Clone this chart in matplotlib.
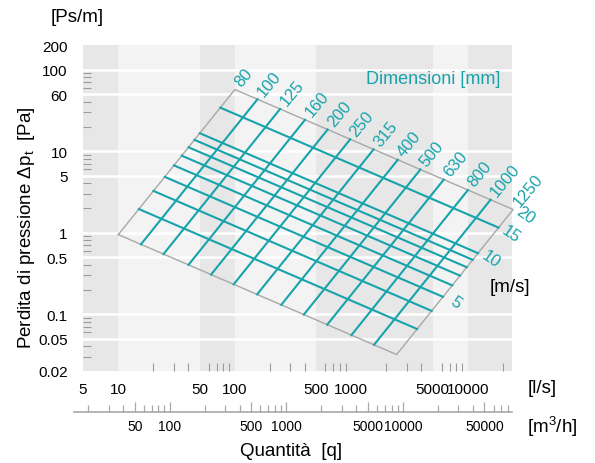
import numpy as np
import matplotlib
matplotlib.use("Agg")
import matplotlib.pyplot as plt
from matplotlib.ticker import FixedLocator, FixedFormatter, NullFormatter

plt.rcParams["font.family"] = ["Liberation Sans", "DejaVu Sans"]

TEAL = "#17a3ab"
GREY = "#a8a8a8"

# nomogram: duct diameters [mm] and air velocities [m/s]
diameters = [80, 100, 125, 160, 200, 250, 315, 400, 500, 630, 800, 1000, 1250]
velocities = [2, 3, 4, 5, 6, 7, 8, 9, 10, 15, 20]
velocity_labels = [5, 10, 15, 20]

# pressure drop fit: dp = K * v^A / d^B  [Pa/m], d in m
K, A, B = 0.0122, 1.78, 1.233

# axes
q_range = (5, 24000)      # l/s
dp_range = (0.02, 200)    # Pa
ls_ticks = [5, 10, 50, 100, 500, 1000, 5000, 10000]
dp_ticks = [0.02, 0.05, 0.1, 0.5, 1, 5, 10, 50, 100, 200]
dp_tick_labels = ["0.02", "0.05", "0.1", "0.5", "1", "5", "10", "60", "100", "200"]
dp_grid = [0.05, 0.1, 0.5, 1, 5, 10, 50, 100]
m3h_ticks = [50, 100, 500, 1000, 5000, 10000, 50000]
dark_bands = [(5, 10), (50, 100), (500, 5000), (10000, 24000)]
LS_TO_M3H = 3.6


def flow(d, v):
    # l/s through a round duct of d mm at v m/s
    return np.pi / 4 * (np.asarray(d) / 1000) ** 2 * np.asarray(v) * 1000


def drop(d, v):
    return K * np.asarray(v) ** A / (np.asarray(d) / 1000) ** B


def minor_ticks(lo, hi):
    out = []
    for k in range(-3, 6):
        for n in (2, 3, 4, 6, 7, 8, 9):
            t = n * 10.0 ** k
            if lo < t < hi:
                out.append(t)
    return out


fig = plt.figure(figsize=(5.95, 4.64), dpi=100)
ax = fig.add_axes([83 / 595, 1 - 372 / 464, 429 / 595, 326 / 464])
ax.set_xscale("log")
ax.set_yscale("log")
ax.set_xlim(*q_range)
ax.set_ylim(*dp_range)
ax.set_facecolor("#f3f3f3")
for lo, hi in dark_bands:
    ax.axvspan(lo, hi, color="#e7e7e7", lw=0, zorder=0)
for g in dp_grid:
    ax.axhline(g, color="white", lw=1.8, zorder=1)
for s in ax.spines.values():
    s.set_visible(False)

ax.xaxis.set_major_locator(FixedLocator(ls_ticks))
ax.xaxis.set_major_formatter(FixedFormatter([str(t) for t in ls_ticks]))
ax.xaxis.set_minor_locator(FixedLocator(minor_ticks(10, q_range[1])))
ax.xaxis.set_minor_formatter(NullFormatter())
ax.yaxis.set_major_locator(FixedLocator(dp_ticks))
ax.yaxis.set_major_formatter(FixedFormatter(dp_tick_labels))
ax.yaxis.set_minor_locator(FixedLocator(minor_ticks(*dp_range)))
ax.yaxis.set_minor_formatter(NullFormatter())
ax.tick_params(which="major", length=0, labelsize=11)
ax.tick_params(axis="x", which="major", pad=8)
ax.tick_params(axis="y", which="major", pad=11)
ax.tick_params(which="minor", direction="in", length=6, width=0.8, color="#9c9c9c")

# nomogram grid
v_span = [velocities[0], velocities[-1]]
d_span = [diameters[0], diameters[-1]]
for d in diameters[1:-1]:
    ax.plot(flow(d, v_span), drop(d, v_span), color=TEAL, lw=1.5, zorder=3)
for v in velocities[1:-1]:
    ax.plot(flow(d_span, v), drop(d_span, v), color=TEAL, lw=1.5, zorder=3)

cd = [diameters[0], diameters[0], diameters[-1], diameters[-1], diameters[0]]
cv = [velocities[0], velocities[-1], velocities[-1], velocities[0], velocities[0]]
ax.plot(flow(cd, cv), drop(cd, cv), color=GREY, lw=1, zorder=2, clip_on=False)

for d in diameters:
    ax.annotate(str(d), (flow(d, velocities[-1]), drop(d, velocities[-1])),
                xytext=(2, 4), textcoords="offset points", rotation=50,
                rotation_mode="anchor", ha="left", va="center",
                color=TEAL, fontsize=12, annotation_clip=False)
for v in velocity_labels:
    ax.annotate(str(v), (flow(diameters[-1], v), drop(diameters[-1], v)),
                xytext=(9, -4), textcoords="offset points", rotation=-35,
                rotation_mode="anchor", ha="center", va="center",
                color=TEAL, fontsize=12, annotation_clip=False)

fig.text(500 / 595, 1 - 80 / 464, "Dimensioni [mm]", ha="right", va="center",
         color=TEAL, fontsize=13)
fig.text(510 / 595, 1 - 288 / 464, "[m/s]", ha="center", va="center", fontsize=13.5)
fig.text(77 / 595, 1 - 17 / 464, "[Ps/m]", ha="center", va="center", fontsize=13.5)
fig.text(27 / 595, 1 - 228 / 464, "Perdita di pressione Δp$_\\mathregular{t}$  [Pa]",
         rotation=90, ha="center", va="center", fontsize=13.5)
fig.text(542 / 595, 1 - 389 / 464, "[l/s]", ha="center", va="center", fontsize=13.5)
fig.text(552 / 595, 1 - 427 / 464, "[m$^\\mathregular{3}$/h]", ha="center", va="center",
         fontsize=13.5)
fig.text(291 / 595, 1 - 452 / 464, "Quantità  [q]", ha="center", va="center", fontsize=13.5)

# second flow scale in m3/h
ax2 = fig.add_axes([74 / 595, 1 - 413 / 464, 438 / 595, 0.0001])
left_ls = ax.transData.inverted().transform(fig.transFigure.transform((74 / 595, 0.5)))[0]
ax2.set_xscale("log")
ax2.set_xlim(left_ls * LS_TO_M3H, q_range[1] * LS_TO_M3H)
ax2.patch.set_visible(False)
for side in ("top", "left", "right"):
    ax2.spines[side].set_visible(False)
ax2.spines["bottom"].set_color(GREY)
ax2.spines["bottom"].set_linewidth(1.2)
ax2.set_yticks([])
ax2.xaxis.set_major_locator(FixedLocator(m3h_ticks))
ax2.xaxis.set_major_formatter(FixedFormatter([str(t) for t in m3h_ticks]))
ax2.xaxis.set_minor_locator(FixedLocator(minor_ticks(*ax2.get_xlim())))
ax2.xaxis.set_minor_formatter(NullFormatter())
ax2.tick_params(which="both", direction="in", color=GREY, width=0.9, labelsize=10, pad=5)
ax2.tick_params(which="major", length=7)
ax2.tick_params(which="minor", length=5)

fig.savefig("out.png", dpi=100)
